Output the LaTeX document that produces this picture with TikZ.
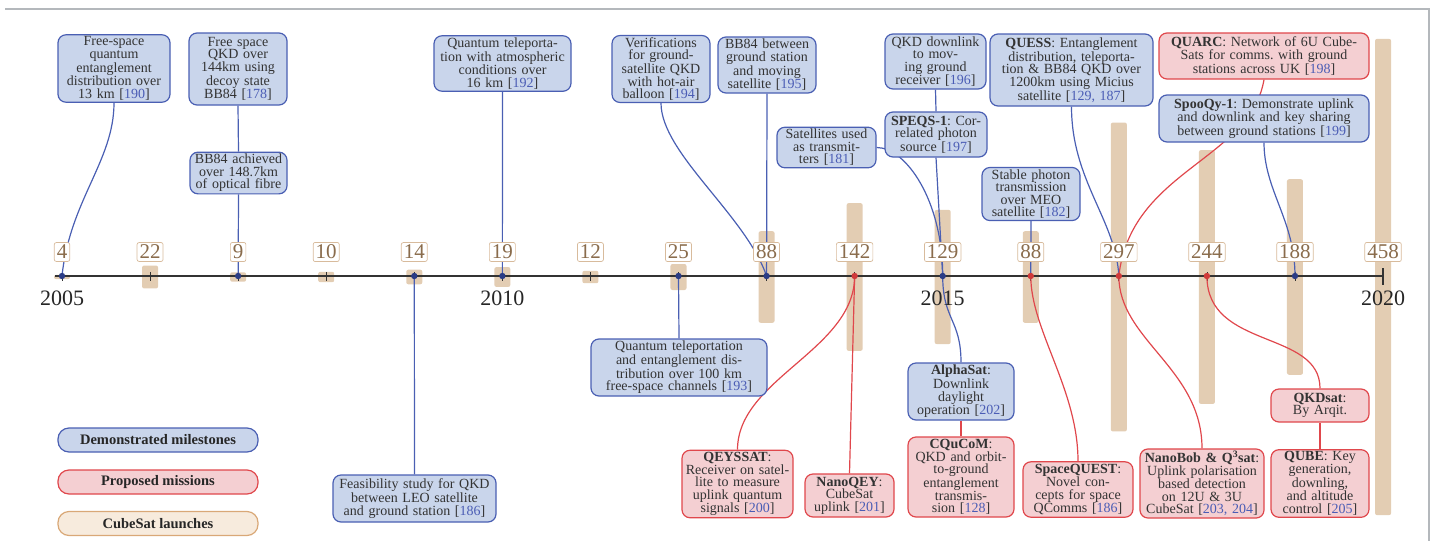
\documentclass[tikz,border=0pt]{standalone}
\usepackage{fontspec}
\setmainfont{Liberation Serif}
\usetikzlibrary{positioning}
\frenchspacing

\definecolor{demofill}{HTML}{C9D5EB}
\definecolor{demoline}{HTML}{4A5FB3}
\definecolor{demodot}{HTML}{2B3C85}
\definecolor{planfill}{HTML}{F4CFD2}
\definecolor{planline}{HTML}{E0474C}
\definecolor{plandot}{HTML}{D03A3A}
\definecolor{cubebar}{HTML}{E3CDB3}
\definecolor{cubeline}{HTML}{D8BB9C}
\definecolor{cubetext}{HTML}{8A6C4C}
\definecolor{cubefill}{HTML}{F7EBDD}
\definecolor{cubeedge}{HTML}{D9A877}
\definecolor{citeblue}{HTML}{4B5DB5}
\definecolor{framegray}{HTML}{B4B8BC}

\newcommand{\rfc}[1]{[{\color{citeblue}#1}]}

\pgfdeclarelayer{bars}
\pgfdeclarelayer{links}
\pgfsetlayers{bars,links,main}

\begin{document}
\begin{tikzpicture}[x=1pt,y=1pt,
		box/.style={rounded corners=8pt,line width=1.2pt,inner xsep=3pt,inner ysep=2pt,
			align=center,text=black!80,font=\fontsize{14}{12.5}\selectfont},
		demo/.style={box,draw=demoline,fill=demofill},
		plan/.style={box,draw=planline,fill=planfill},
		sz/.style 2 args={text width=#1,minimum height=#2},
		demolink/.style={draw=demoline,line width=1.2pt},
		planlink/.style={draw=planline,line width=1.2pt},
		cnt/.style={draw=cubeline,fill=white,rounded corners=2pt,line width=0.7pt,
			text=cubetext,inner xsep=2.5pt,inner ysep=2.5pt,font=\fontsize{21}{21}\selectfont},
		leg/.style={rounded corners=11pt,line width=1.2pt,minimum width=200pt,minimum height=24pt,
			text=black!85,font=\fontsize{14.5}{14.5}\selectfont\bfseries}]
		\useasboundingbox (0,0) rectangle (1434,-541);

		% frame of the page
		\draw[framegray,line width=1.5pt] (5,-9) -- (1429,-9) -- (1429,-541);

		% cubesat bars, counts and ticks for every year
		\foreach \n [count=\i from 0] in {4,22,9,10,14,19,12,25,88,142,129,88,297,244,188,458} {
			\pgfmathsetmacro\xx{62+88.07*\i}
			\pgfmathtruncatemacro\yr{2005+\i}
			\coordinate (y\yr) at (\xx,-276);
			\begin{pgfonlayer}{bars}
				\fill[cubebar,rounded corners=2pt] (\xx-8,-277-0.52*\n) rectangle (\xx+8,-277+0.52*\n);
			\end{pgfonlayer}
			\begin{pgfonlayer}{links}
				\draw[line width=0.8pt,black!80] (\xx,-272) -- (\xx,-281);
			\end{pgfonlayer}
			\node[cnt] (n\yr) at (\xx,-252) {\n};
		}

		% the time axis
		\begin{pgfonlayer}{links}
			\draw[line width=2.4pt,black!80] (55,-276) -- (y2020);
			\draw[line width=1.5pt,black!80] (1383,-268) -- (1383,-285);
		\end{pgfonlayer}
		\foreach \yr in {2005,2010,2015,2020}
		\node[text=black!85,font=\fontsize{22}{22}\selectfont] (lab\yr) at ([yshift=-22pt]y\yr) {\yr};

		% milestones above the axis
		\node[demo,sz={106pt}{67pt}] (freespace) at (114,-68.5)
			{Free-space\\quantum\\entanglement\\distribution over\\13 km \rfc{190}};
		\node[demo,sz={92pt}{72pt}] (decoy) at (238,-69)
			{Free space\\QKD over\\144km using\\decoy state\\BB84 \rfc{178}};
		\node[demo,sz={91pt}{40pt}] (fibre) at (238.5,-173)
			{BB84 achieved\\over 148.7km\\of optical fibre};
		\node[demo,sz={131pt}{55pt}] (telep16) at (502.5,-63.5)
			{Quantum teleporta-\\tion with atmospheric\\conditions over\\16 km \rfc{192}};
		\node[demo,sz={92pt}{66pt}] (balloon) at (661,-69)
			{Verifications\\for ground-\\satellite QKD\\with hot-air\\balloon \rfc{194}};
		\node[demo,sz={92pt}{56pt}] (bbsat) at (767,-65)
			{BB84 between\\ground station\\and moving\\satellite \rfc{195}};
		\node[demo,sz={95pt}{55pt}] (downlink) at (935.5,-61.5)
			{QKD downlink\\to mov-\\ing ground\\receiver \rfc{196}};
		\node[demo,sz={96pt}{45pt}] (speqs) at (936,-134.5)
			{\textbf{SPEQS-1}: Cor-\\related photon\\source \rfc{197}};
		\node[demo,sz={93pt}{39pt}] (transm) at (826.5,-147.5)
			{Satellites used\\as transmit-\\ters \rfc{181}};
		\node[demo,sz={157pt}{72pt}] (quess) at (1071.5,-70)
			{\textbf{QUESS}: Entanglement\\distribution, teleporta-\\tion \& BB84 QKD over\\1200km using Micius\\satellite \rfc{129, 187}};
		\node[plan,sz={204pt}{46pt}] (quarc) at (1264,-56)
			{\textbf{QUARC}: Network of 6U Cube-\\Sats for comms. with ground\\stations across UK \rfc{198}};
		\node[demo,sz={204pt}{47pt}] (spooqy) at (1264,-118.5)
			{\textbf{SpooQy-1}: Demonstrate uplink\\and downlink and key sharing\\between ground stations \rfc{199}};
		\node[demo,sz={92pt}{52pt}] (meo) at (1031,-194)
			{Stable photon\\transmission\\over MEO\\satellite \rfc{182}};

		% milestones and missions below the axis
		\node[demo,sz={170pt}{57pt}] (telep100) at (679,-367.5)
			{Quantum teleportation\\and entanglement dis-\\tribution over 100 km\\free-space channels \rfc{193}};
		\node[demo,sz={157pt}{47pt}] (leo) at (414.5,-498.5)
			{Feasibility study for QKD\\between LEO satellite\\and ground station \rfc{186}};
		\node[plan,sz={105pt}{66pt}] (qeyssat) at (737.5,-484)
			{\textbf{QEYSSAT}:\\Receiver on satel-\\lite to measure\\uplink quantum\\signals \rfc{200}};
		\node[plan,sz={83pt}{43pt}] (nanoqey) at (849.5,-495.5)
			{\textbf{NanoQEY}:\\CubeSat\\uplink \rfc{201}};
		\node[demo,sz={100pt}{57pt}] (alphasat) at (961,-391.5)
			{\textbf{AlphaSat}:\\Downlink\\daylight\\operation \rfc{202}};
		\node[plan,sz={100pt}{80pt}] (cqucom) at (961,-477)
			{\textbf{CQuCoM}:\\QKD and orbit-\\to-ground\\entanglement\\transmis-\\sion \rfc{128}};
		\node[plan,sz={104pt}{55pt}] (spacequest) at (1078,-489.5)
			{\textbf{SpaceQUEST}:\\Novel con-\\cepts for space\\QComms \rfc{186}};
		\node[plan,sz={118pt}{67pt}] (nanobob) at (1202,-483.5)
			{\textbf{NanoBob \& Q\textsuperscript{3}sat}:\\Uplink polarisation\\based detection\\on 12U \& 3U\\CubeSat \rfc{203, 204}};
		\node[plan,sz={92pt}{33pt}] (qkdsat) at (1320,-405.5)
			{\textbf{QKDsat}:\\By Arqit.};
		\node[plan,sz={92pt}{67pt}] (qube) at (1320,-483.5)
			{\textbf{QUBE}: Key\\generation,\\downling,\\and altitude\\control \rfc{205}};

		% legend
		\node[leg,draw=demoline,fill=demofill] (legdemo) at (158,-440) {Demonstrated milestones};
		\node[leg,draw=planline,fill=planfill] (legplan) at (158,-482) {Proposed missions};
		\node[leg,draw=cubeedge,fill=cubefill] (legcube) at (158,-523.5) {CubeSat launches};

		% connectors to the axis
		\begin{pgfonlayer}{links}
			\draw[demolink] (freespace.south) .. controls +(0,-58) and +(8,76) .. (y2005);
			\draw[demolink] (decoy.south) -- (fibre.north);
			\draw[demolink] (fibre.south) -- (y2007);
			\draw[demolink] (leo.north) -- (y2009);
			\draw[demolink] (telep16.south) -- (y2010);
			\draw[demolink] (telep100.north) -- (y2012);
			\draw[demolink] (balloon.south) .. controls +(0,-50) and +(-21,61) .. (y2013);
			\draw[demolink] (bbsat.south) -- (y2013);
			\draw[planlink] (qeyssat.north) .. controls +(0,71) and +(0,-74) .. (y2014);
			\draw[planlink] (nanoqey.north) -- (y2014);
			\draw[demolink] (downlink.south) -- (speqs.north);
			\draw[demolink] (speqs.south) -- (y2015);
			\draw[demolink] (transm.east) .. controls +(29,0) and +(0,76) .. (y2015);
			\draw[demolink] (alphasat.north) .. controls +(0,43) and +(0,-44) .. (y2015);
			\draw[planlink] (cqucom.north) -- (alphasat.south);
			\draw[demolink] (meo.south) -- (y2016);
			\draw[planlink] (spacequest.north) .. controls +(0,72) and +(0,-54) .. (y2016);
			\draw[demolink] (quess.south) .. controls +(0,-74) and +(-3,56) .. (y2017);
			\draw[planlink] (quarc.south) .. controls +(-14,-81) and +(12,106) .. (y2017);
			\draw[planlink] (nanobob.north) .. controls +(0,80) and +(0,-64) .. (y2017);
			\draw[planlink] (qkdsat.north) .. controls +(0,59) and +(0,-74) .. (y2018);
			\draw[planlink] (qube.north) -- (qkdsat.south);
			\draw[demolink] (spooqy.south) .. controls +(0,-48) and +(0,56) .. (y2019);
		\end{pgfonlayer}

		% dots on the axis
		\foreach \yr in {2005,2007,2009,2010,2012,2013,2015,2019}
		\fill[demodot] (y\yr) circle (3.2pt);
		\foreach \yr in {2014,2016,2017,2018}
		\fill[plandot] (y\yr) circle (3.2pt);
\end{tikzpicture}
\end{document}
